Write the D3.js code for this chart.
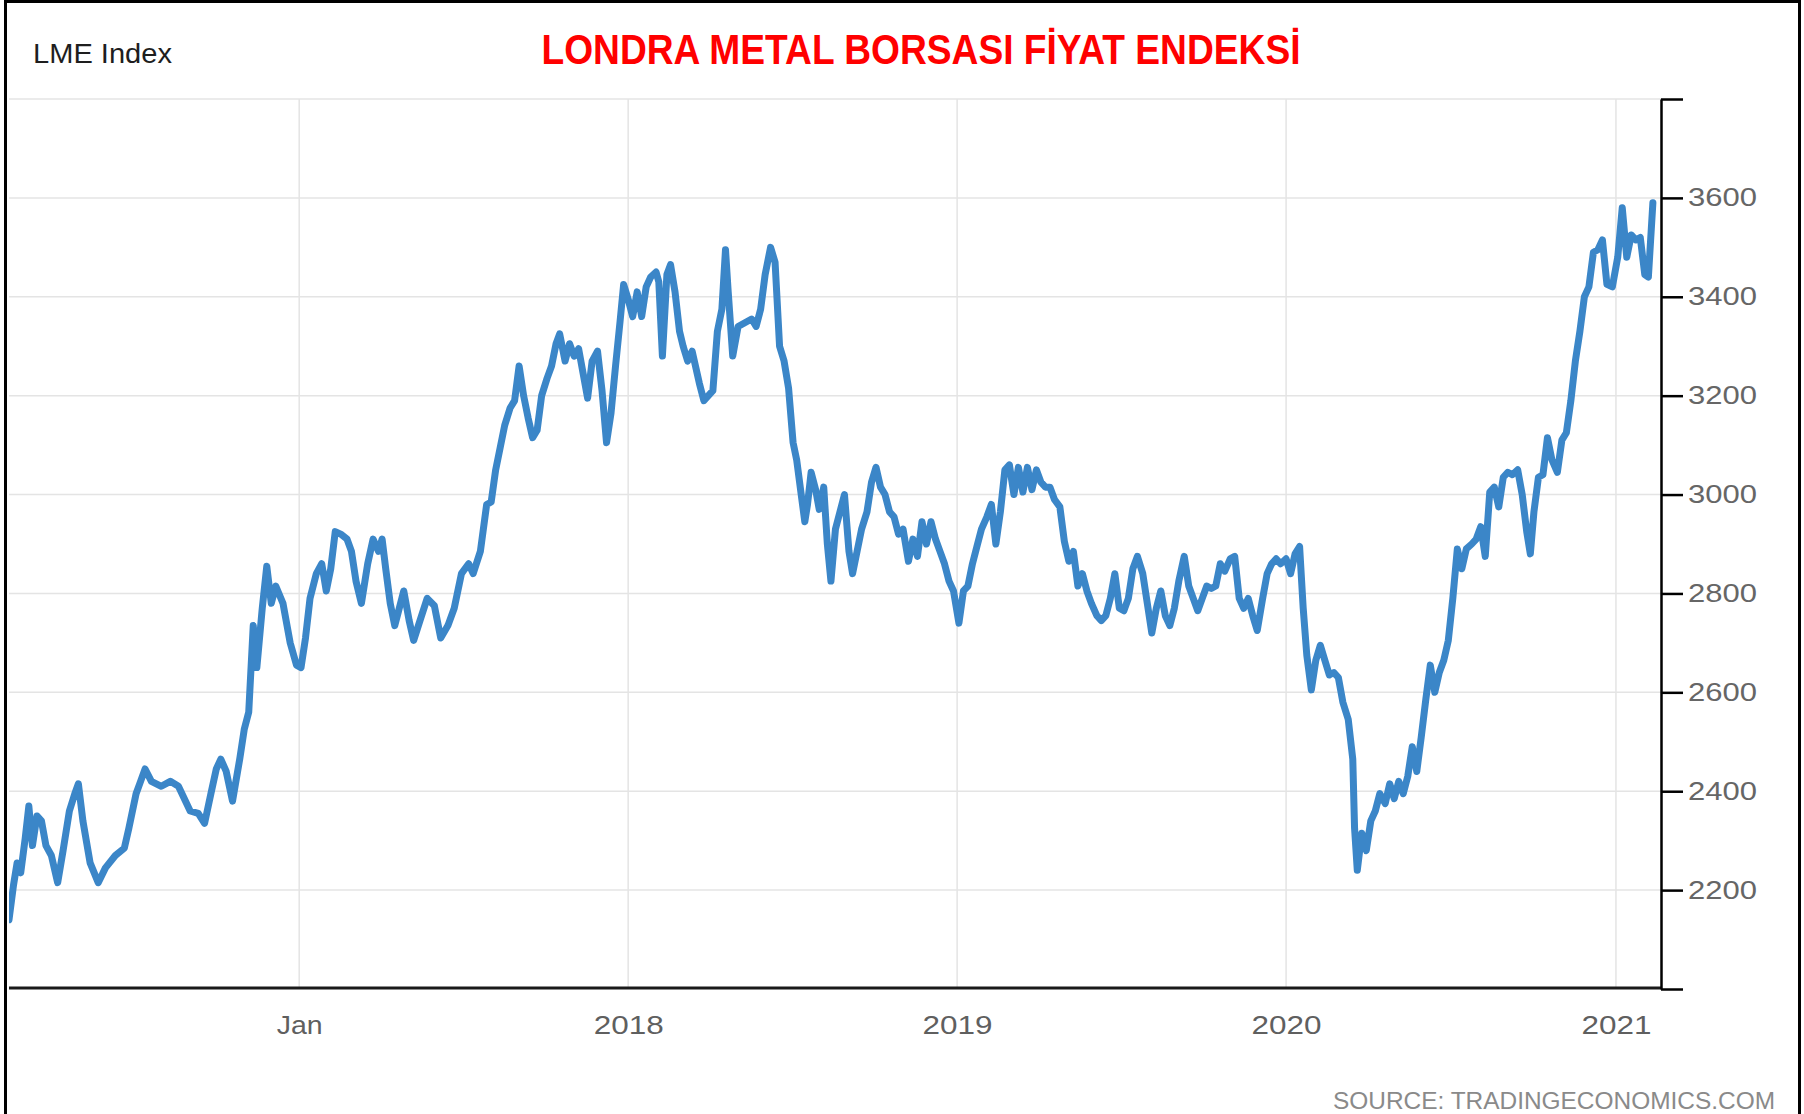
<!DOCTYPE html>
<html>
<head>
<meta charset="utf-8">
<script src="https://cdn.jsdelivr.net/npm/d3@7"></script>
<style>
  html, body { margin: 0; padding: 0; background: #fff; }
  svg { display: block; font-family: "Liberation Sans", Arial, sans-serif; }
</style>
</head>
<body>
<div id="chart"></div>
<script>
// LME index (date, index points)
const lme2016 = [
  ["2016-02-14",2140],["2016-02-19",2210],["2016-02-23",2255],["2016-02-27",2235],["2016-03-03",2305],
  ["2016-03-07",2370],["2016-03-11",2290],["2016-03-16",2350],["2016-03-21",2340],["2016-03-26",2290],
  ["2016-04-01",2270],["2016-04-08",2215],["2016-04-14",2280],["2016-04-21",2360],["2016-04-27",2395],
  ["2016-05-01",2415],["2016-05-06",2340],["2016-05-14",2255],["2016-05-23",2215],["2016-05-31",2245],
  ["2016-06-11",2270],["2016-06-21",2285],["2016-06-26",2325],["2016-07-04",2395],["2016-07-09",2420],
  ["2016-07-14",2445],["2016-07-21",2420],["2016-08-01",2410],["2016-08-11",2420],["2016-08-20",2410],
  ["2016-09-02",2360],["2016-09-11",2355],["2016-09-18",2335],["2016-09-25",2395],["2016-10-01",2445],
  ["2016-10-06",2465],["2016-10-12",2440],["2016-10-19",2380],["2016-10-27",2465],["2016-11-01",2525],
  ["2016-11-06",2560],["2016-11-11",2735],["2016-11-15",2650],["2016-11-21",2770],["2016-11-26",2855],
  ["2016-12-01",2780],["2016-12-06",2815],["2016-12-14",2780],["2016-12-22",2700],["2016-12-29",2655]
];
const lme2017 = [
  ["2017-01-03",2650],["2017-01-08",2710],["2017-01-13",2790],["2017-01-20",2840],["2017-01-26",2860],
  ["2017-01-31",2805],["2017-02-05",2850],["2017-02-10",2925],["2017-02-16",2920],["2017-02-23",2910],
  ["2017-02-28",2885],["2017-03-05",2825],["2017-03-11",2780],["2017-03-18",2860],["2017-03-24",2910],
  ["2017-03-30",2885],["2017-04-03",2910],["2017-04-07",2850],["2017-04-12",2780],["2017-04-17",2735],
  ["2017-04-22",2770],["2017-04-27",2805],["2017-05-03",2745],["2017-05-08",2705],["2017-05-15",2745],
  ["2017-05-23",2790],["2017-05-31",2775],["2017-06-07",2710],["2017-06-15",2735],["2017-06-22",2770],
  ["2017-06-30",2840],["2017-07-08",2860],["2017-07-13",2840],["2017-07-21",2885],["2017-07-28",2980],
  ["2017-08-02",2985],["2017-08-07",3050],["2017-08-12",3095],["2017-08-17",3140],["2017-08-23",3175],
  ["2017-08-28",3190],["2017-09-02",3260],["2017-09-07",3200],["2017-09-12",3155],["2017-09-17",3115],
  ["2017-09-22",3130],["2017-09-27",3200],["2017-10-03",3235],["2017-10-08",3260],["2017-10-13",3305],
  ["2017-10-17",3325],["2017-10-23",3270],["2017-10-28",3305],["2017-11-02",3280],["2017-11-07",3295],
  ["2017-11-12",3245],["2017-11-17",3195],["2017-11-22",3270],["2017-11-28",3290],["2017-12-03",3210],
  ["2017-12-08",3105],["2017-12-13",3165],["2017-12-18",3260],["2017-12-23",3350],["2017-12-27",3425]
];
const lme2018 = [
  ["2018-01-01",3395],["2018-01-06",3360],["2018-01-11",3410],["2018-01-16",3360],["2018-01-21",3420],
  ["2018-01-26",3440],["2018-02-01",3450],["2018-02-04",3430],["2018-02-08",3280],["2018-02-13",3445],
  ["2018-02-17",3465],["2018-02-22",3410],["2018-02-27",3330],["2018-03-03",3300],["2018-03-08",3270],
  ["2018-03-13",3290],["2018-03-21",3225],["2018-03-26",3190],["2018-03-31",3200],["2018-04-05",3210],
  ["2018-04-10",3330],["2018-04-15",3375],["2018-04-19",3495],["2018-04-22",3410],["2018-04-27",3280],
  ["2018-05-03",3340],["2018-05-08",3345],["2018-05-13",3350],["2018-05-18",3355],["2018-05-23",3340],
  ["2018-05-28",3375],["2018-06-02",3445],["2018-06-08",3500],["2018-06-13",3470],["2018-06-18",3300],
  ["2018-06-23",3270],["2018-06-28",3215],["2018-07-03",3105],["2018-07-07",3070],["2018-07-12",3000],
  ["2018-07-16",2945],["2018-07-19",2980],["2018-07-23",3045],["2018-07-28",3010],["2018-08-01",2970],
  ["2018-08-06",3015],["2018-08-10",2900],["2018-08-14",2825],["2018-08-19",2930],["2018-08-24",2965],
  ["2018-08-29",3000],["2018-09-03",2885],["2018-09-07",2840],["2018-09-12",2885],["2018-09-17",2930],
  ["2018-09-23",2965],["2018-09-28",3025],["2018-10-03",3055],["2018-10-08",3015],["2018-10-13",3000],
  ["2018-10-18",2965],["2018-10-23",2955],["2018-10-28",2920],["2018-11-02",2930],["2018-11-08",2865],
  ["2018-11-13",2910],["2018-11-18",2875],["2018-11-23",2945],["2018-11-28",2900],["2018-12-03",2945],
  ["2018-12-08",2910],["2018-12-13",2885],["2018-12-18",2860],["2018-12-23",2825],["2018-12-28",2805]
];
const lme2019 = [
  ["2019-01-03",2740],["2019-01-08",2805],["2019-01-13",2815],["2019-01-18",2860],["2019-01-23",2895],
  ["2019-01-28",2930],["2019-02-03",2955],["2019-02-08",2980],["2019-02-13",2900],["2019-02-18",2965],
  ["2019-02-23",3050],["2019-02-28",3060],["2019-03-05",3000],["2019-03-10",3055],["2019-03-15",3005],
  ["2019-03-20",3055],["2019-03-25",3010],["2019-03-30",3050],["2019-04-04",3025],["2019-04-09",3015],
  ["2019-04-14",3015],["2019-04-19",2990],["2019-04-25",2975],["2019-04-30",2905],["2019-05-05",2865],
  ["2019-05-10",2885],["2019-05-15",2815],["2019-05-20",2840],["2019-05-25",2805],["2019-05-30",2780],
  ["2019-06-05",2755],["2019-06-10",2745],["2019-06-15",2755],["2019-06-20",2790],["2019-06-25",2840],
  ["2019-06-30",2770],["2019-07-05",2765],["2019-07-10",2790],["2019-07-15",2850],["2019-07-20",2875],
  ["2019-07-26",2840],["2019-07-31",2780],["2019-08-05",2720],["2019-08-10",2770],["2019-08-15",2805],
  ["2019-08-20",2755],["2019-08-25",2735],["2019-08-30",2770],["2019-09-04",2825],["2019-09-10",2875],
  ["2019-09-15",2815],["2019-09-20",2790],["2019-09-25",2765],["2019-09-30",2790],["2019-10-05",2815],
  ["2019-10-10",2810],["2019-10-15",2815],["2019-10-20",2860],["2019-10-25",2845],["2019-10-31",2870],
  ["2019-11-05",2875],["2019-11-10",2790],["2019-11-15",2770],["2019-11-20",2790],["2019-11-25",2755],
  ["2019-11-30",2725],["2019-12-06",2790],["2019-12-11",2840],["2019-12-16",2860],["2019-12-21",2870],
  ["2019-12-26",2860]
];
const lme2020 = [
  ["2020-01-01",2870],["2020-01-06",2840],["2020-01-11",2880],["2020-01-16",2895],["2020-01-20",2770],
  ["2020-01-24",2675],["2020-01-29",2605],["2020-02-03",2665],["2020-02-08",2695],["2020-02-13",2665],
  ["2020-02-18",2635],["2020-02-23",2640],["2020-02-28",2630],["2020-03-04",2580],["2020-03-10",2545],
  ["2020-03-15",2465],["2020-03-17",2325],["2020-03-20",2240],["2020-03-25",2315],["2020-03-30",2280],
  ["2020-04-04",2340],["2020-04-09",2360],["2020-04-14",2395],["2020-04-20",2375],["2020-04-25",2415],
  ["2020-04-30",2385],["2020-05-05",2420],["2020-05-10",2395],["2020-05-15",2430],["2020-05-20",2490],
  ["2020-05-25",2440],["2020-05-30",2510],["2020-06-04",2585],["2020-06-09",2655],["2020-06-14",2600],
  ["2020-06-19",2640],["2020-06-24",2665],["2020-06-29",2705],["2020-07-04",2790],["2020-07-09",2890],
  ["2020-07-14",2850],["2020-07-19",2890],["2020-07-25",2900],["2020-07-30",2910],["2020-08-04",2935],
  ["2020-08-09",2875],["2020-08-14",3005],["2020-08-19",3015],["2020-08-24",2975],["2020-08-29",3035],
  ["2020-09-03",3045],["2020-09-08",3040],["2020-09-14",3050],["2020-09-19",3000],["2020-09-24",2925],
  ["2020-09-28",2880],["2020-10-02",2965],["2020-10-07",3035],["2020-10-12",3040],["2020-10-17",3115],
  ["2020-10-22",3070],["2020-10-28",3045],["2020-11-02",3110],["2020-11-07",3125],["2020-11-12",3190],
  ["2020-11-17",3270],["2020-11-22",3330],["2020-11-27",3400],["2020-12-02",3420],["2020-12-07",3490],
  ["2020-12-12",3495],["2020-12-17",3515],["2020-12-22",3425],["2020-12-28",3420]
];
const lme2021 = [
  ["2021-01-03",3480],["2021-01-08",3580],["2021-01-13",3480],["2021-01-18",3525],["2021-01-23",3515],
  ["2021-01-28",3520],["2021-02-02",3445],["2021-02-06",3440],["2021-02-11",3590]
];

// Axes
const yTicks = [2000, 2200, 2400, 2600, 2800, 3000, 3200, 3400, 3600, 3800];
const xTickDates = ["2017-01-01", "2018-01-01", "2019-01-01", "2020-01-01", "2021-01-01"];
const xTickLabels = ["Jan", "2018", "2019", "2020", "2021"];
const xDomain = ["2016-02-14", "2021-02-20"];
const yDomain = [2000, 3800];

const width = 1804;
const height = 1114;
const plot = { left: 9, right: 1661, top: 99, bottom: 989 };

const parse = d3.timeParse("%Y-%m-%d");
const series = [...lme2016, ...lme2017, ...lme2018, ...lme2019, ...lme2020, ...lme2021]
    .map(([d, v]) => ({ date: parse(d), value: v }));

const x = d3.scaleTime()
    .domain(xDomain.map(parse))
    .range([plot.left, plot.right]);

const y = d3.scaleLinear()
    .domain(yDomain)
    .range([plot.bottom, plot.top]);

const svg = d3.select('#chart').append('svg')
    .attr('width', width)
    .attr('height', height)
    .attr('viewBox', [0, 0, width, height]);

svg.append('rect')
    .attr('width', width)
    .attr('height', height)
    .attr('fill', '#fff');

// Grid lines
const grid = svg.append('g')
    .attr('stroke', '#e4e4e4')
    .attr('stroke-width', 1.5);

grid.selectAll('line.h')
    .data(yTicks.filter(t => t > yDomain[0]))
    .join('line')
    .attr('class', 'h')
    .attr('x1', plot.left)
    .attr('x2', plot.right)
    .attr('y1', d => y(d))
    .attr('y2', d => y(d));

grid.selectAll('line.v')
    .data(xTickDates.map(parse))
    .join('line')
    .attr('class', 'v')
    .attr('x1', d => x(d))
    .attr('x2', d => x(d))
    .attr('y1', plot.top)
    .attr('y2', plot.bottom);

// Clip the series to the plot area
svg.append('clipPath')
    .attr('id', 'plot-clip')
    .append('rect')
    .attr('x', plot.left)
    .attr('y', plot.top)
    .attr('width', plot.right - plot.left)
    .attr('height', plot.bottom - plot.top);

const line = d3.line()
    .x(d => x(d.date))
    .y(d => y(d.value));

svg.append('path')
    .datum(series)
    .attr('clip-path', 'url(#plot-clip)')
    .attr('fill', 'none')
    .attr('stroke', '#3b86c8')
    .attr('stroke-width', 7)
    .attr('stroke-linejoin', 'round')
    .attr('stroke-linecap', 'round')
    .attr('d', line);

// Bottom axis: baseline + labels
svg.append('line')
    .attr('x1', plot.left)
    .attr('x2', plot.right)
    .attr('y1', plot.bottom - 1)
    .attr('y2', plot.bottom - 1)
    .attr('stroke', '#1a1a1a')
    .attr('stroke-width', 3);

const xAxis = svg.append('g')
    .attr('transform', `translate(0,${plot.bottom - 1})`)
    .call(d3.axisBottom(x)
        .tickValues(xTickDates.map(parse))
        .tickFormat((d, i) => xTickLabels[i])
        .tickSize(0)
        .tickPadding(28));

xAxis.select('.domain').remove();
xAxis.selectAll('text')
    .attr('font-family', '"Liberation Sans", Arial, sans-serif')
    .attr('font-size', 25)
    .attr('fill', '#5f5f5f')
    .attr('textLength', (d, i) => xTickLabels[i].length === 3 ? 46 : 70)
    .attr('lengthAdjust', 'spacingAndGlyphs');

// Right axis
const yAxis = svg.append('g')
    .attr('transform', `translate(${plot.right},0)`)
    .call(d3.axisRight(y)
        .tickValues(yTicks)
        .tickFormat(d => (d === yDomain[0] || d === yDomain[1]) ? '' : d)
        .tickSize(22)
        .tickSizeOuter(0)
        .tickPadding(5));

yAxis.select('.domain')
    .attr('stroke', '#000')
    .attr('stroke-width', 2.5);
yAxis.selectAll('.tick line')
    .attr('stroke', '#000')
    .attr('stroke-width', 2.5);
yAxis.selectAll('text')
    .attr('font-family', '"Liberation Sans", Arial, sans-serif')
    .attr('font-size', 25)
    .attr('fill', '#666')
    .attr('textLength', d => (d === yDomain[0] || d === yDomain[1]) ? null : 69)
    .attr('lengthAdjust', 'spacingAndGlyphs');

// Titles
svg.append('text')
    .attr('x', 33)
    .attr('y', 63)
    .attr('font-size', 28)
    .attr('fill', '#1e1e1e')
    .attr('textLength', 139)
    .attr('lengthAdjust', 'spacingAndGlyphs')
    .text('LME Index');

svg.append('text')
    .attr('x', 921)
    .attr('y', 64)
    .attr('text-anchor', 'middle')
    .attr('font-size', 42)
    .attr('font-weight', 'bold')
    .attr('fill', '#ff0000')
    .attr('textLength', 759)
    .attr('lengthAdjust', 'spacingAndGlyphs')
    .text('LONDRA METAL BORSASI FİYAT ENDEKSİ');

svg.append('text')
    .attr('x', 1775)
    .attr('y', 1109)
    .attr('text-anchor', 'end')
    .attr('font-size', 23)
    .attr('fill', '#8a8a8a')
    .attr('textLength', 442)
    .attr('lengthAdjust', 'spacingAndGlyphs')
    .text('SOURCE: TRADINGECONOMICS.COM');

// Outer frame
svg.append('rect')
    .attr('x', 5.5)
    .attr('y', 1.5)
    .attr('width', 1794)
    .attr('height', 1140)
    .attr('fill', 'none')
    .attr('stroke', '#000')
    .attr('stroke-width', 3);
</script>
</body>
</html>
